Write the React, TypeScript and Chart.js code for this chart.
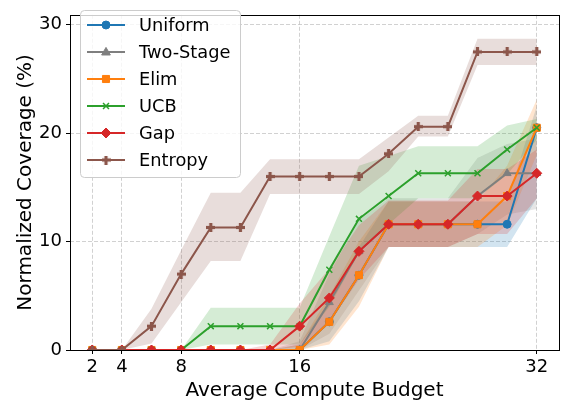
import React, { useEffect, useRef } from 'react';
import { Chart, registerables } from 'chart.js';

Chart.register(...registerables);

const xValues = [2, 4, 6, 8, 10, 12, 14, 16, 18, 20, 22, 24, 26, 28, 30, 32];
const xTickValues = [2, 4, 8, 16, 32];
const yTickValues = [0, 10, 20, 30];

const uniformMean = [0, 0, 0, 0, 0, 0, 0, 0, 2.6, 6.9, 11.6, 11.6, 11.6, 11.6, 11.6, 20.5];
const uniformLow = [0, 0, 0, 0, 0, 0, 0, 0, 0.8, 4.5, 9.5, 9.5, 9.5, 9.5, 9.5, 14.0];
const uniformHigh = [0, 0, 0, 0, 0, 0, 0, 0.5, 4.5, 9.5, 13.7, 13.7, 13.7, 13.7, 13.7, 22.5];

const twoStageMean = [0, 0, 0, 0, 0, 0, 0, 0, 4.4, 9.1, 11.6, 11.6, 11.6, 14.2, 16.3, 16.3];
const twoStageLow = [0, 0, 0, 0, 0, 0, 0, 0, 1.5, 5.5, 9.5, 9.5, 9.5, 10.7, 12.5, 13.0];
const twoStageHigh = [0, 0, 0, 0, 0, 0, 0, 0.8, 7.0, 12.0, 14.0, 14.0, 14.0, 17.7, 19.0, 19.5];

const elimMean = [0, 0, 0, 0, 0, 0, 0, 0, 2.6, 6.9, 11.6, 11.6, 11.6, 11.6, 14.2, 20.5];
const elimLow = [0, 0, 0, 0, 0, 0, 0, 0, 0.5, 4.0, 9.5, 9.5, 9.5, 9.5, 11.5, 18.0];
const elimHigh = [0, 0, 0, 0, 0, 0, 0, 0.5, 5.0, 10.0, 13.7, 13.7, 13.7, 13.7, 17.0, 23.1];

const ucbMean = [0, 0, 0, 0, 2.2, 2.2, 2.2, 2.2, 7.4, 12.1, 14.2, 16.3, 16.3, 16.3, 18.5, 20.5];
const ucbLow = [0, 0, 0, 0, 0.5, 0.5, 0.5, 0.5, 4.0, 9.0, 11.6, 14.0, 14.0, 14.0, 16.2, 19.4];
const ucbHigh = [0, 0, 0, 0, 3.9, 3.9, 3.9, 3.9, 10.5, 17.0, 17.9, 18.8, 18.8, 18.8, 20.7, 21.3];

const gapMean = [0, 0, 0, 0, 0, 0, 0, 2.2, 4.8, 9.1, 11.6, 11.6, 11.6, 14.2, 14.2, 16.3];
const gapLow = [0, 0, 0, 0, 0, 0, 0, 0.3, 2.5, 6.5, 9.5, 9.5, 9.5, 10.7, 10.7, 14.0];
const gapHigh = [0, 0, 0, 0, 0, 0, 0.5, 4.3, 7.5, 11.5, 13.8, 13.8, 13.8, 16.7, 16.7, 18.5];

const entropyMean = [0, 0, 2.2, 7.0, 11.3, 11.3, 16.0, 16.0, 16.0, 16.0, 18.1, 20.6, 20.6, 27.5, 27.5, 27.5];
const entropyLow = [0, 0, 0.6, 4.4, 8.2, 8.2, 14.4, 14.4, 14.4, 14.4, 16.5, 19.7, 19.7, 26.3, 26.3, 26.3];
const entropyHigh = [0, 0, 3.8, 9.2, 14.5, 14.5, 17.6, 17.6, 17.6, 17.6, 19.6, 21.6, 21.6, 28.7, 28.7, 28.7];

const seriesNames = ['Uniform', 'Two-Stage', 'Elim', 'UCB', 'Gap', 'Entropy'];
const seriesColors = ['#1f77b4', '#7f7f7f', '#ff7f0e', '#2ca02c', '#d62728', '#8c564b'];
const seriesMarkers = ['circle', 'triangle', 'rect', 'crossRot', 'rectRot', 'plus'];
const seriesMeans = [uniformMean, twoStageMean, elimMean, ucbMean, gapMean, entropyMean];
const seriesLows = [uniformLow, twoStageLow, elimLow, ucbLow, gapLow, entropyLow];
const seriesHighs = [uniformHigh, twoStageHigh, elimHigh, ucbHigh, gapHigh, entropyHigh];
const markerRadii = [4, 4.6, 5, 4.2, 5, 4.5];

const FONT = "'DejaVu Sans', sans-serif";

function hexToRgba(hex: string, a: number) {
  const n = parseInt(hex.slice(1), 16);
  return `rgba(${(n >> 16) & 255},${(n >> 8) & 255},${n & 255},${a})`;
}

function makePlus(color: string) {
  const size = 9;
  const c = document.createElement('canvas');
  c.width = size;
  c.height = size;
  const g = c.getContext('2d')!;
  g.fillStyle = color;
  const arm = 3.2;
  const o = (size - arm) / 2;
  g.fillRect(0, o, size, arm);
  g.fillRect(o, 0, arm, size);
  return c;
}

function drawMarker(ctx: CanvasRenderingContext2D, style: any, x: number, y: number, r: number, color: string) {
  ctx.save();
  ctx.fillStyle = color;
  ctx.strokeStyle = color;
  ctx.lineWidth = 1;
  ctx.beginPath();
  if (style === 'circle') {
    ctx.arc(x, y, r, 0, Math.PI * 2);
    ctx.fill();
    ctx.stroke();
  } else if (style === 'triangle') {
    ctx.moveTo(x, y - r);
    ctx.lineTo(x + r * 0.95, y + r * 0.65);
    ctx.lineTo(x - r * 0.95, y + r * 0.65);
    ctx.closePath();
    ctx.fill();
    ctx.stroke();
  } else if (style === 'rect') {
    const s = r * Math.SQRT1_2;
    ctx.rect(x - s, y - s, 2 * s, 2 * s);
    ctx.fill();
    ctx.stroke();
  } else if (style === 'rectRot') {
    ctx.moveTo(x, y - r);
    ctx.lineTo(x + r, y);
    ctx.lineTo(x, y + r);
    ctx.lineTo(x - r, y);
    ctx.closePath();
    ctx.fill();
    ctx.stroke();
  } else if (style === 'crossRot') {
    const s = r * Math.SQRT1_2;
    ctx.lineWidth = 1.5;
    ctx.moveTo(x - s, y - s);
    ctx.lineTo(x + s, y + s);
    ctx.moveTo(x + s, y - s);
    ctx.lineTo(x - s, y + s);
    ctx.stroke();
  } else if (style instanceof HTMLCanvasElement) {
    ctx.drawImage(style, x - style.width / 2, y - style.height / 2);
  }
  ctx.restore();
}

export default function App() {
  const canvasRef = useRef<HTMLCanvasElement | null>(null);

  useEffect(() => {
    const canvas = canvasRef.current;
    if (!canvas) return;

    const styles: any[] = seriesMarkers.map((m, i) => (m === 'plus' ? makePlus(seriesColors[i]) : m));

    const toPts = (arr: number[]) => xValues.map((x, j) => ({ x, y: arr[j] }));

    const datasets: any[] = [];
    seriesNames.forEach((name, i) => {
      const color = seriesColors[i];
      datasets.push({
        label: name + ' low',
        data: toPts(seriesLows[i]),
        borderWidth: 0,
        borderColor: 'rgba(0,0,0,0)',
        pointRadius: 0,
        fill: false,
        order: 100 - i,
      });
      datasets.push({
        label: name + ' high',
        data: toPts(seriesHighs[i]),
        borderWidth: 0,
        borderColor: 'rgba(0,0,0,0)',
        backgroundColor: hexToRgba(color, 0.2),
        pointRadius: 0,
        fill: '-1',
        order: 100 - i,
      });
      datasets.push({
        label: name,
        data: toPts(seriesMeans[i]),
        borderColor: color,
        backgroundColor: color,
        borderWidth: 2,
        pointStyle: styles[i],
        pointRadius: markerRadii[i],
        pointBorderWidth: seriesMarkers[i] === 'crossRot' ? 1.5 : 1,
        pointBorderColor: color,
        pointBackgroundColor: color,
        fill: false,
        order: 5 - i,
      });
    });

    const framePlugin = {
      id: 'frameAndLegend',
      afterDraw(chart: any) {
        const ctx: CanvasRenderingContext2D = chart.ctx;
        const a = chart.chartArea;
        ctx.save();
        ctx.strokeStyle = '#000';
        ctx.lineWidth = 1;
        ctx.strokeRect(Math.round(a.left) + 0.5, Math.round(a.top) + 0.5, Math.round(a.right - a.left), Math.round(a.bottom - a.top));

        // legend box
        const bx = 80.5, by = 10.5, bw = 160, bh = 167, rad = 4;
        ctx.beginPath();
        ctx.moveTo(bx + rad, by);
        ctx.lineTo(bx + bw - rad, by);
        ctx.quadraticCurveTo(bx + bw, by, bx + bw, by + rad);
        ctx.lineTo(bx + bw, by + bh - rad);
        ctx.quadraticCurveTo(bx + bw, by + bh, bx + bw - rad, by + bh);
        ctx.lineTo(bx + rad, by + bh);
        ctx.quadraticCurveTo(bx, by + bh, bx, by + bh - rad);
        ctx.lineTo(bx, by + rad);
        ctx.quadraticCurveTo(bx, by, bx + rad, by);
        ctx.closePath();
        ctx.fillStyle = 'rgba(255,255,255,0.8)';
        ctx.fill();
        ctx.strokeStyle = '#cccccc';
        ctx.stroke();

        ctx.font = `17.8px ${FONT}`;
        ctx.textBaseline = 'middle';
        ctx.textAlign = 'left';
        seriesNames.forEach((name, i) => {
          const y = 25 + i * 27;
          ctx.strokeStyle = seriesColors[i];
          ctx.lineWidth = 2;
          ctx.beginPath();
          ctx.moveTo(87, y);
          ctx.lineTo(125, y);
          ctx.stroke();
          drawMarker(ctx, styles[i], 106, y, markerRadii[i], seriesColors[i]);
          ctx.fillStyle = '#000';
          ctx.fillText(name, 139, y + 1);
        });
        ctx.restore();
      },
    };

    const chart = new Chart(canvas, {
      type: 'line',
      data: { datasets },
      options: {
        animation: false,
        responsive: false,
        events: [],
        layout: { padding: { left: 0, right: 4, top: 2, bottom: 0 } },
        plugins: {
          legend: { display: false },
          tooltip: { enabled: false },
          filler: { drawTime: 'beforeDatasetsDraw' } as any,
        },
        elements: { line: { tension: 0 } },
        scales: {
          x: {
            type: 'linear',
            min: 0.5,
            max: 33.5,
            afterBuildTicks: (s: any) => {
              s.ticks = xTickValues.map((v) => ({ value: v }));
            },
            afterFit: (s: any) => {
              s.height = 56;
            },
            ticks: {
              font: { family: FONT, size: 18 },
              color: '#000',
              padding: 3,
              maxRotation: 0,
              autoSkip: false,
              callback: (v: any) => String(v),
            },
            grid: {
              color: 'rgba(190,190,190,0.7)',
              lineWidth: 1,
              tickLength: 4,
              tickColor: '#000',
            },
            border: { display: false, dash: [4, 2] },
            title: {
              display: true,
              text: 'Average Compute Budget',
              font: { family: FONT, size: 20 },
              color: '#000',
              padding: { top: 0, bottom: 3 },
            },
          },
          y: {
            type: 'linear',
            min: 0,
            max: 30.92,
            afterBuildTicks: (s: any) => {
              s.ticks = yTickValues.map((v) => ({ value: v }));
            },
            afterFit: (s: any) => {
              s.width = 70;
            },
            ticks: {
              font: { family: FONT, size: 18 },
              color: '#000',
              padding: 4,
              callback: (v: any) => String(v),
            },
            grid: {
              color: 'rgba(190,190,190,0.7)',
              lineWidth: 1,
              tickLength: 4,
              tickColor: '#000',
            },
            border: { display: false, dash: [4, 2] },
            title: {
              display: true,
              text: 'Normalized Coverage (%)',
              font: { family: FONT, size: 20 },
              color: '#000',
              padding: { top: 14, bottom: 0 },
            },
          },
        },
      },
      plugins: [framePlugin],
    });

    return () => chart.destroy();
  }, []);

  return (
    <div style={{ position: 'fixed', left: 0, top: 0, width: 565, height: 406, background: '#fff' }}>
      <canvas ref={canvasRef} width={565} height={406} style={{ display: 'block', width: 565, height: 406 }} />
    </div>
  );
}
